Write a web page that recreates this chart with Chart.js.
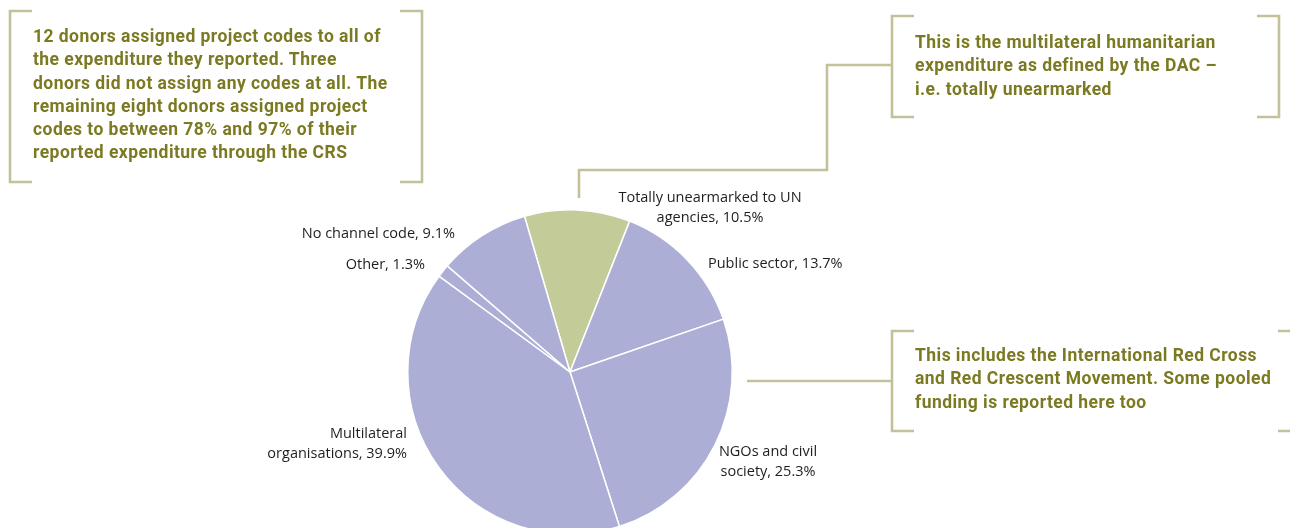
<!DOCTYPE html>
<html>
<head>
<meta charset="utf-8">
<script src="https://cdn.jsdelivr.net/npm/chart.js@4.4.1/dist/chart.umd.min.js"></script>
<style>
  html, body { margin: 0; padding: 0; background: #fff; }
  #wrap { position: relative; width: 1290px; height: 528px; overflow: hidden; }
  canvas { position: absolute; left: 0; top: 0; }
  .note {
    position: absolute;
    font-family: "Roboto", sans-serif;
    font-weight: bold;
    font-size: 17.5px;
    letter-spacing: 0.45px;
    line-height: 23.3px;
    color: #7b7a22;
    white-space: nowrap;
  }
</style>
</head>
<body>
<div id="wrap">
  <canvas id="pie" width="1290" height="545"></canvas>
  <div class="note" style="left:33px; top:25px;">12 donors assigned project codes to all of<br>the expenditure they reported. Three<br>donors did not assign any codes at all. The<br>remaining eight donors assigned project<br>codes to between 78% and 97% of their<br>reported expenditure through the CRS</div>
  <div class="note" style="left:915px; top:31px;">This is the multilateral humanitarian<br>expenditure as defined by the DAC –<br>i.e. totally unearmarked</div>
  <div class="note" style="left:915px; top:344px;">This includes the International Red Cross<br>and Red Crescent Movement. Some pooled<br>funding is reported here too</div>
</div>
<script>
// --- DATA ---
const channels = ['Totally unearmarked to UN agencies', 'Public sector', 'NGOs and civil society',
                  'Multilateral organisations', 'Other', 'No channel code'];
const shares   = [10.5, 13.7, 25.3, 39.9, 1.3, 9.1];
const labelLines = [
  ['Totally unearmarked to UN', 'agencies, 10.5%'],
  ['Public sector, 13.7%'],
  ['NGOs and civil', 'society, 25.3%'],
  ['Multilateral', 'organisations, 39.9%'],
  ['Other, 1.3%'],
  ['No channel code, 9.1%']
];

// label placement, relative to the pie centre
const labelLayout = [
  { dx: 140,  dy: -174, align: 'center' },
  { dx: 138,  dy: -108, align: 'left' },
  { dx: 198,  dy: 80,   align: 'center' },
  { dx: -163, dy: 62,   align: 'right' },
  { dx: -145, dy: -107, align: 'right' },
  { dx: -115, dy: -138, align: 'right' }
];

const PURPLE = '#adaed6';
const GREEN  = '#c3cc98';
const RULE   = '#c2c19a';

// bracket / connector rules around the notes
const rules = [
  [[32,11],[10,11],[10,182],[32,182]],
  [[400,11],[422,11],[422,182],[400,182]],
  [[914,16],[892,16],[892,117],[914,117]],
  [[1257,16],[1279,16],[1279,117],[1257,117]],
  [[579,198],[579,170],[827,170],[827,65],[892,65]],
  [[914,331],[892,331],[892,431],[914,431]],
  [[1278,331],[1300,331],[1300,431],[1278,431]],
  [[747,381],[892,381]]
];

const decorPlugin = {
  id: 'decor',
  afterDraw(chart) {
    const ctx = chart.ctx;
    ctx.save();
    ctx.strokeStyle = RULE;
    ctx.lineWidth = 2.6;
    ctx.lineCap = 'butt';
    ctx.lineJoin = 'miter';
    rules.forEach(pts => {
      ctx.beginPath();
      pts.forEach((p, i) => i ? ctx.lineTo(p[0], p[1]) : ctx.moveTo(p[0], p[1]));
      ctx.stroke();
    });

    const arcs = chart.getDatasetMeta(0).data;
    ctx.fillStyle = '#1e1e1e';
    ctx.font = '14.5px "Open Sans", sans-serif';
    ctx.textBaseline = 'middle';
    arcs.forEach((arc, i) => {
      const lay = labelLayout[i];
      ctx.textAlign = lay.align;
      labelLines[i].forEach((t, j) => {
        ctx.fillText(t, arc.x + lay.dx, arc.y + lay.dy + j * 20);
      });
    });
    ctx.restore();
  }
};

new Chart(document.getElementById('pie'), {
  type: 'pie',
  data: {
    labels: channels,
    datasets: [{
      data: shares,
      backgroundColor: shares.map((v, i) => i === 0 ? GREEN : PURPLE),
      borderColor: '#ffffff',
      borderWidth: 1.5
    }]
  },
  options: {
    responsive: false,
    animation: false,
    rotation: -16.3,
    layout: { padding: { left: 407, right: 557, top: 209, bottom: 10 } },
    plugins: { legend: { display: false }, tooltip: { enabled: false } }
  },
  plugins: [decorPlugin]
});
</script>
</body>
</html>
